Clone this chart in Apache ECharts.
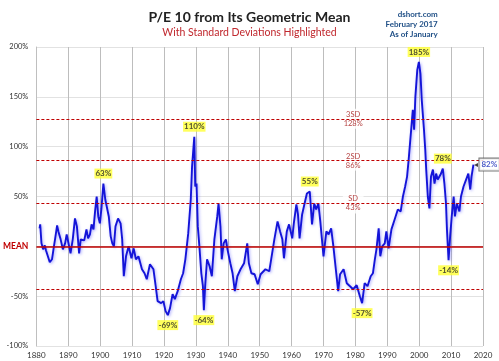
<!DOCTYPE html>
<html><head><meta charset="utf-8">
<script src="https://cdn.jsdelivr.net/npm/echarts@6/dist/echarts.min.js"></script>
<style>html,body{margin:0;padding:0;background:#fff}#c{width:499px;height:361px}</style>
</head><body><div id="c"></div>
<script>
// P/E 10 deviation from geometric mean (%)
var years = [1881.0,1881.2,1881.6,1882.1,1882.6,1883.0,1883.4,1884.2,1884.9,1885.5,1885.9,1886.5,1886.9,1887.6,1888.3,1889.0,1889.5,1890.0,1890.7,1891.4,1892.1,1892.7,1893.4,1893.9,1894.4,1895.0,1895.7,1896.2,1896.8,1897.3,1897.9,1898.4,1898.9,1899.4,1899.9,1900.4,1901.0,1901.6,1902.1,1902.7,1903.3,1903.8,1904.3,1904.8,1905.6,1906.4,1906.9,1907.4,1908.1,1908.9,1909.8,1910.5,1911.2,1912.0,1913.1,1913.9,1914.6,1915.6,1916.7,1917.4,1918.0,1919.1,1919.8,1920.5,1921.2,1921.9,1922.7,1923.4,1924.3,1925.3,1926.0,1926.7,1927.6,1928.4,1928.8,1929.1,1929.5,1929.8,1930.2,1930.6,1931.1,1931.7,1932.2,1932.5,1932.9,1933.5,1934.3,1935.0,1935.8,1936.7,1937.1,1937.7,1938.1,1938.7,1939.4,1939.9,1940.8,1941.5,1942.2,1943.0,1944.0,1945.1,1946.1,1946.6,1947.4,1948.4,1949.4,1950.3,1951.8,1953.0,1953.5,1954.6,1955.6,1956.4,1957.1,1957.6,1958.5,1959.2,1960.2,1960.7,1961.5,1962.0,1962.5,1963.3,1964.0,1964.8,1965.7,1966.4,1967.1,1967.7,1968.4,1969.0,1970.0,1970.9,1971.6,1972.4,1973.1,1974.0,1974.6,1975.2,1976.3,1977.3,1978.3,1979.3,1980.4,1981.4,1982.1,1982.9,1983.8,1984.8,1985.5,1986.1,1986.6,1987.3,1987.8,1988.4,1989.2,1989.7,1990.4,1991.3,1992.3,1993.3,1994.2,1994.9,1995.6,1996.2,1996.7,1997.3,1998.0,1998.4,1998.8,1999.4,1999.9,2000.4,2000.8,2001.5,2001.9,2002.2,2002.7,2003.2,2003.7,2004.3,2004.8,2005.3,2005.8,2006.7,2007.4,2007.9,2008.4,2008.7,2009.2,2009.7,2010.2,2010.8,2011.2,2011.8,2012.6,2013.1,2013.9,2014.7,2015.4,2016.0,2016.4,2017.0];
var values = [18,22,3,-3,1,-4,-2,-16,-13,0,8,21,15,7,-3,3,12,13,-7,7,28,20,-7,7,8,6,17,8,12,22,17,35,50,30,23,38,63,47,48,30,10,3,0,20,28,23,7,-30,-10,0,-12,-2,-13,-10,-23,-27,-33,-18,-23,-40,-55,-57,-55,-65,-69,-62,-48,-53,-45,-33,-27,-13,13,47,80,78,110,60,63,20,0,-27,-40,-64,-40,-13,-20,-30,7,30,43,20,-13,3,7,-3,-17,-27,-45,-30,-23,-17,3,-17,-27,-28,-38,-28,-23,-25,-15,7,25,15,7,-12,15,22,8,23,42,32,8,32,42,53,55,22,43,37,43,25,-10,15,12,18,0,-27,-45,-28,-23,-37,-40,-43,-39,-50,-57,-37,-40,-30,-27,-13,-3,18,-10,0,3,15,-2,17,27,37,35,50,60,70,87,110,137,117,150,177,185,173,147,117,97,77,50,38,70,77,63,73,67,72,78,63,43,17,-14,10,30,50,30,43,35,50,60,67,73,57,70,82];

// Reference levels
var sdValues = [128, 86, 43, -43];
var sdNames = ['3SD', '2SD', 'SD', ''];
var sdLabelYear = 1979.3;

// Highlighted extremes
var annotYears  = [1901.0, 1929.5, 1921.2, 1932.5, 1965.7, 1982.1, 1999.9, 2007.4, 2009.2];
var annotValues = [63, 110, -69, -64, 55, -57, 185, 78, -14];
var annotText   = ['63%', '110%', '-69%', '-64%', '55%', '-57%', '185%', '78%', '-14%'];
var lastYear = 2017.0, lastValue = 82, lastText = '82%';

var xTicks = {min: 1880, max: 2020, interval: 10};
var yTicks = {min: -100, max: 200, interval: 50};

var lineData = years.map(function (y, i) { return [y, values[i]]; });
var FONT = 'Lato, "Liberation Sans", sans-serif';

var chart = echarts.init(document.getElementById('c'), null, {renderer: 'canvas'});
var sdLabelData = sdValues.filter(function (v, i) { return sdNames[i]; }).map(function (v, i) {
  return {value: [sdLabelYear, v], name: sdNames[i] + '\n' + v + '%'};
});
var annotData = annotYears.map(function (y, i) {
  return {value: [y, annotValues[i]], name: annotText[i], label: {position: annotValues[i] >= 0 ? 'top' : 'bottom'}};
});

chart.setOption({
  animation: false,
  backgroundColor: '#fff',
  textStyle: {fontFamily: FONT},
  title: [
    {text: 'P/E 10 from Its Geometric Mean', left: 'center', top: 5,
     textStyle: {fontSize: 14, fontWeight: 'bold', color: '#222', fontFamily: FONT}},
    {text: 'With Standard Deviations Highlighted', left: 'center', top: 22,
     textStyle: {fontSize: 10.5, fontWeight: 'normal', color: '#c0272d', fontFamily: FONT}},
    {text: 'dshort.com\nFebruary 2017\nAs of January', right: 4, top: 4, textAlign: 'right',
     textStyle: {fontSize: 8, fontWeight: 'bold', color: '#1f4f86', lineHeight: 10, align: 'right', fontFamily: FONT}}
  ],
  grid: {left: 29.5, right: 16, top: 47, bottom: 15, containLabel: false},
  xAxis: {
    type: 'value', min: xTicks.min, max: xTicks.max, interval: xTicks.interval,
    axisLine: {show: true, lineStyle: {color: '#bfbfbf'}},
    axisTick: {show: false},
    splitLine: {show: true, lineStyle: {color: '#bdbdbd', width: 1}},
    axisLabel: {fontSize: 8, color: '#333', margin: 5, formatter: function (v) { return String(v); }}
  },
  yAxis: {
    type: 'value', min: yTicks.min, max: yTicks.max, interval: yTicks.interval,
    axisLine: {show: true, lineStyle: {color: '#bfbfbf'}},
    axisTick: {show: false},
    splitLine: {show: true, lineStyle: {color: '#e2e2e2', width: 1}},
    axisLabel: {fontSize: 7.5, color: '#333', margin: 8,
      formatter: function (v) { return v === 0 ? '{m|MEAN}' : v + '%'; },
      rich: {m: {color: '#c00000', fontWeight: 'bold', fontSize: 8.5, fontFamily: FONT}}}
  },
  series: [
    {
      type: 'line', data: [], silent: true,
      markLine: {
        symbol: 'none', silent: true, label: {show: false},
        data: [{yAxis: 0, lineStyle: {color: '#c00000', width: 1.5, type: 'solid'}}].concat(
          sdValues.map(function (v) { return {yAxis: v, lineStyle: {color: '#c00000', width: 1.2, type: [3, 2]}}; }))
      }
    },
    {
      type: 'scatter', data: sdLabelData, symbolSize: 0, silent: true, z: 3,
      label: {show: true, position: 'inside', formatter: function (p) { return p.name; },
        fontSize: 7.5, color: '#a01010', backgroundColor: '#fff', padding: [1, 3], lineHeight: 9, fontFamily: FONT}
    },
    {
      type: 'line', data: lineData, showSymbol: false, z: 4,
      lineStyle: {color: '#1414d8', width: 1.9, shadowColor: 'rgba(70,70,255,0.45)', shadowBlur: 3, shadowOffsetX: 1, shadowOffsetY: 1}
    },
    {
      type: 'scatter', data: annotData, symbolSize: 0, silent: true, z: 5,
      label: {show: true, formatter: function (p) { return p.name; }, distance: 5,
        fontSize: 8, fontWeight: 'bold', color: '#222', backgroundColor: '#ffff33', padding: [1, 1], fontFamily: FONT}
    },
    {
      type: 'scatter', data: [{value: [lastYear, lastValue], name: lastText}], symbolSize: 0, silent: true, z: 5,
      label: {show: true, position: 'right', distance: 1, formatter: function (p) { return '{a|◂}{b|' + p.name + '}'; },
        rich: {a: {color: '#111', fontSize: 8, padding: [0, 1, 0, 0]},
               b: {color: '#2233bb', fontWeight: 'bold', fontSize: 8, backgroundColor: '#fff', borderColor: '#555', borderWidth: 1, padding: [2, 2], fontFamily: FONT}}}
    }
  ]
});
</script></body></html>
